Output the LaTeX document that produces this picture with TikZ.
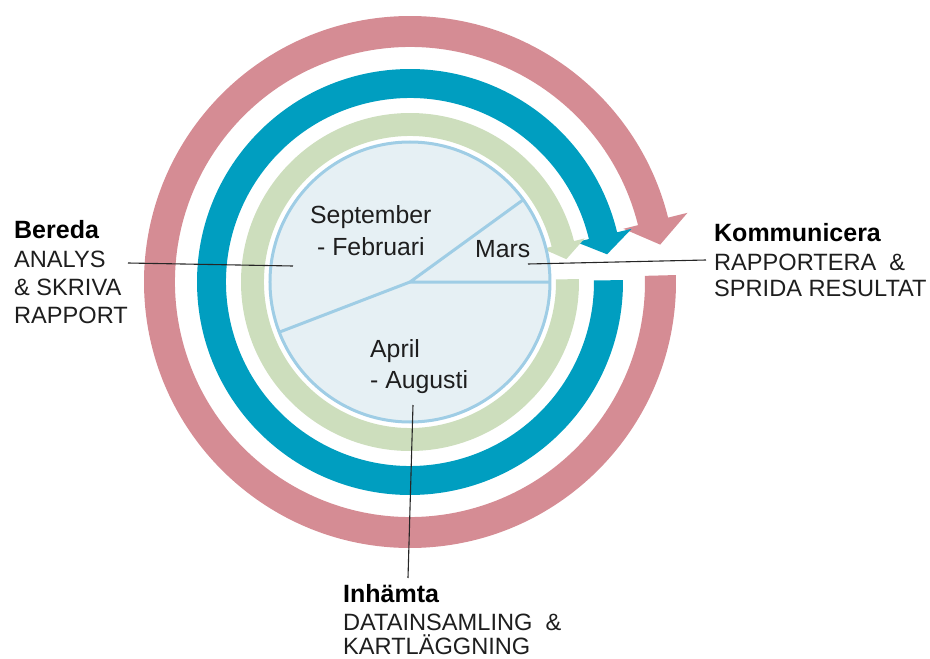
\documentclass[tikz,border=0pt]{standalone}
\usepackage{fontspec}
\setmainfont{Liberation Sans}
\definecolor{ringpink}{RGB}{213,140,148}
\definecolor{ringblue}{RGB}{0,158,192}
\definecolor{ringgreen}{RGB}{205,222,189}
\definecolor{pief}{RGB}{230,240,244}
\definecolor{pied}{RGB}{159,205,229}
\definecolor{txt}{RGB}{30,30,30}
\newcommand{\ringarrow}[9]{%
  \fill[#1] (#6:#3pt) arc[start angle=#6, end angle=#7-360, radius=#3pt]
    -- (#7:#5pt) -- (#8:#9pt) -- (#7:#4pt) -- (#7:#2pt)
    arc[start angle=#7-360, end angle=#6, radius=#2pt] -- cycle;}
\tikzset{
  lbl/.style={anchor=base west, inner sep=0pt, text=txt, font=\fontsize{23.6}{28}\selectfont},
  ttl/.style={anchor=base west, inner sep=0pt, text=black, font=\fontsize{25}{28}\selectfont\bfseries},
  inl/.style={anchor=base west, inner sep=0pt, text=txt, font=\fontsize{24.8}{28}\selectfont},
  leader/.style={draw=black!85, line width=1.1pt},
  pieline/.style={draw=pied, line width=3pt}
}
\begin{document}
\begin{tikzpicture}[x=1pt,y=1pt]
\useasboundingbox (-410,-377) rectangle (520,282);
% rings
\ringarrow{ringpink}{235}{266}{220}{286}{1.5}{14}{8.5}{253}
\ringarrow{ringblue}{184}{213}{171}{228}{0.5}{13.5}{8}{199}
\ringarrow{ringgreen}{146}{169}{137}{180}{1}{14}{8.3}{158}
% inner pie
\node[circle, draw=pied, fill=pief, line width=3pt, minimum size=280pt, inner sep=0pt] (pie) at (0,0) {};
\coordinate (c) at (0,0);
\coordinate (p1) at (36:139pt);
\coordinate (p2) at (0:139pt);
\coordinate (p3) at (201:139pt);
\draw[pieline] (p1) -- (c) -- (p2);
\draw[pieline] (c) -- (p3);
% inner labels
\node[inl] (sep) at (-100,59) {September};
\node[inl] (feb) at (-93,27) {- Februari};
\node[inl] (mars) at (65,24) {Mars};
\node[inl] (apr) at (-40,-75) {April};
\node[inl] (aug) at (-40,-106) {- Augusti};
% outer labels
\node[ttl] (bereda) at (-396,44) {Bereda};
\node[lbl] (b1) at (-396,14) {ANALYS};
\node[lbl] (b2) at (-396,-13) {\& SKRIVA};
\node[lbl] (b3) at (-396,-41) {RAPPORT};
\node[ttl] (komm) at (304,41) {Kommunicera};
\node[lbl] (k1) at (304,12) {RAPPORTERA\ \ \&};
\node[lbl] (k2) at (304,-14) {SPRIDA RESULTAT};
\node[ttl] (inh) at (-67,-320) {Inhämta};
\node[lbl] (i1) at (-67,-348) {DATAINSAMLING\ \ \&};
\node[lbl] (i2) at (-67,-372) {KARTLÄGGNING};
% leader lines
\coordinate (bl1) at (-282,19);
\coordinate (bl2) at (-117,16);
\coordinate (kl1) at (118,18);
\coordinate (kl2) at (296,22);
\coordinate (il1) at (3,-123);
\coordinate (il2) at (-2,-296);
\draw[leader] (bl1) -- (bl2);
\draw[leader] (kl1) -- (kl2);
\draw[leader] (il1) -- (il2);
\end{tikzpicture}
\end{document}
